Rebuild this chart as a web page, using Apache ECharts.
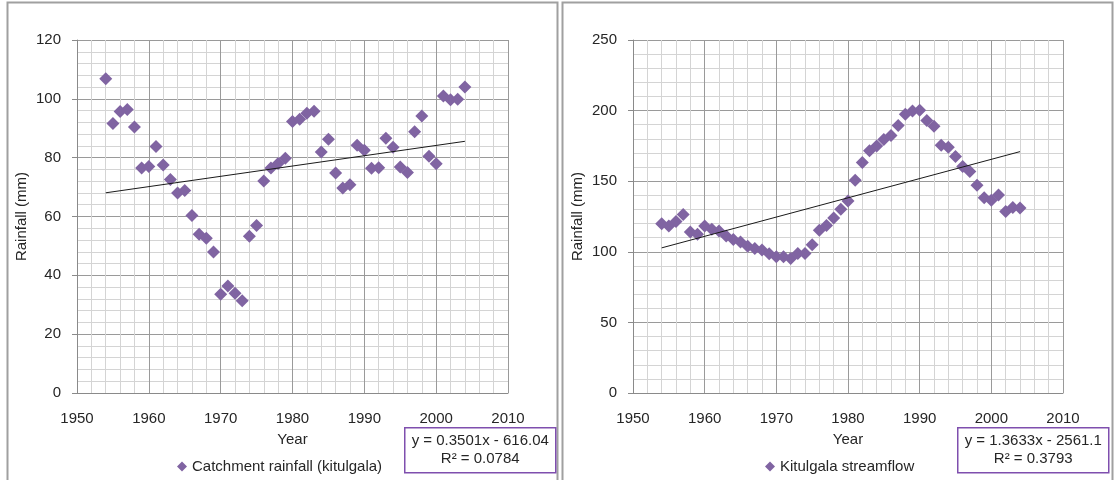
<!DOCTYPE html>
<html>
<head>
<meta charset="utf-8">
<script src="https://cdn.jsdelivr.net/npm/echarts@6/dist/echarts.min.js"></script>
<style>
html,body{margin:0;padding:0;background:#fff;}
#c{width:1115px;height:480px;}
</style>
</head>
<body>
<div id="c"></div>
<script>
// ---- data ----
var years = [1954,1955,1956,1957,1958,1959,1960,1961,1962,1963,1964,1965,1966,1967,1968,1969,
  1970,1971,1972,1973,1974,1975,1976,1977,1978,1979,1980,1981,1982,1983,1984,1985,1986,1987,1988,1989,
  1990,1991,1992,1993,1994,1995,1996,1997,1998,1999,2000,2001,2002,2003,2004];
var rainfall = [106.8,91.6,95.7,96.4,90.4,76.5,77.0,83.8,77.5,72.6,68.0,68.8,60.3,54.0,52.6,47.9,
  33.6,36.4,33.9,31.4,53.3,56.9,72.1,76.5,78.0,79.8,92.3,93.1,95.1,95.8,81.9,86.3,74.8,69.7,70.8,84.2,
  82.5,76.4,76.6,86.6,83.5,76.8,75.0,88.8,94.2,80.5,77.9,101.0,99.7,99.9,104.0];
var streamflow = [119.9,118.3,121.5,126.5,114.0,112.4,118.3,115.9,114.8,111.2,108.7,107.0,104.0,102.3,101.2,98.6,
  96.5,96.5,95.3,98.8,98.8,105.0,115.2,118.7,124.0,130.2,136.0,150.7,163.2,171.5,175.0,179.5,182.3,189.5,197.5,199.8,
  200.3,193.0,189.0,175.5,174.0,167.5,160.4,156.8,147.2,138.2,136.5,140.3,128.5,131.4,131.1];
// trend line coefficients as printed on the chart: [slope, intercept]
var trendRain = [0.3501, -616.04];
var trendFlow = [1.3633, -2561.1];
var trendRange = [1954, 2004];
var seriesNames = ['Catchment rainfall (kitulgala)', 'Kitulgala streamflow'];
var eqRain = ['y = 0.3501x - 616.04', 'R\u00B2 = 0.0784'];
var eqFlow = ['y = 1.3633x - 2561.1', 'R\u00B2 = 0.3793'];
var yTitle = 'Rainfall (mm)';
var xTitle = 'Year';

// ---- build ----
var FONT = 'Liberation Sans';
var TXT = '#262626';
var PURPLE = '#8064A2';
function pairs(vals){ return years.map(function(y,i){ return [y, vals[i]]; }); }
function trend(c){ return trendRange.map(function(x){ return [x, c[0]*x + c[1]]; }); }

function xAxis(gi){
  return {
    type:'value', gridIndex:gi, min:1950, max:2010, interval:10,
    name: xTitle, nameLocation:'middle', nameGap:39,
    nameTextStyle:{fontFamily:FONT,fontSize:15,color:TXT},
    axisLine:{show:true,onZero:false,lineStyle:{color:'#8a8a8a',width:1}},
    axisTick:{show:false},
    axisLabel:{fontFamily:FONT,fontSize:15,color:TXT,margin:18,formatter:function(v){return String(v);}},
    splitLine:{show:true,lineStyle:{color:'#9a9a9a',width:1}},
    minorTick:{show:false,splitNumber:5},
    minorSplitLine:{show:true,lineStyle:{color:'#d4d4d4',width:1}}
  };
}
function yAxis(gi,max,interval){
  return {
    type:'value', gridIndex:gi, min:0, max:max, interval:interval,
    name: yTitle, nameLocation:'middle', nameGap:48, nameRotate:90,
    nameTextStyle:{fontFamily:FONT,fontSize:15,color:TXT},
    axisLine:{show:true,lineStyle:{color:'#8a8a8a',width:1}},
    axisTick:{show:true,inside:false,length:5,lineStyle:{color:'#8a8a8a'}},
    axisLabel:{fontFamily:FONT,fontSize:15,color:TXT,margin:16},
    splitLine:{show:true,lineStyle:{color:'#9a9a9a',width:1}},
    minorTick:{show:false,splitNumber:5},
    minorSplitLine:{show:true,lineStyle:{color:'#d4d4d4',width:1}}
  };
}
function eqBox(x,y,lines){
  return {
    type:'group', left:x, top:y,
    children:[
      {type:'rect', shape:{x:0,y:0,width:151,height:45}, style:{fill:'#fff',stroke:'#7F4FAE',lineWidth:1.5}},
      {type:'text', style:{x:75.5,y:13,text:lines[0],textAlign:'center',textVerticalAlign:'middle',font:'15px "'+FONT+'"',fill:TXT}},
      {type:'text', style:{x:75.5,y:31,text:lines[1],textAlign:'center',textVerticalAlign:'middle',font:'15px "'+FONT+'"',fill:TXT}}
    ]
  };
}

var chart = echarts.init(document.getElementById('c'), null, {renderer:'canvas'});
chart.setOption({
  animation:false,
  backgroundColor:'#fff',
  grid:[
    {left:77, top:40, width:431, height:353},
    {left:633, top:40, width:430, height:353}
  ],
  xAxis:[xAxis(0), xAxis(1)],
  yAxis:[yAxis(0,120,20), yAxis(1,250,50)],
  legend:[
    {data:[{name:seriesNames[0],icon:'diamond'}], left:172, top:454, itemWidth:10, itemHeight:10, itemGap:4,
     textStyle:{fontFamily:FONT,fontSize:15,color:TXT}},
    {data:[{name:seriesNames[1],icon:'diamond'}], left:760, top:454, itemWidth:10, itemHeight:10, itemGap:4,
     textStyle:{fontFamily:FONT,fontSize:15,color:TXT}}
  ],
  series:[
    {name:seriesNames[0], type:'scatter', xAxisIndex:0, yAxisIndex:0, symbol:'diamond', symbolSize:13,
     itemStyle:{color:PURPLE,opacity:1}, data:pairs(rainfall), z:3},
    {name:'trend0', type:'line', xAxisIndex:0, yAxisIndex:0, symbol:'none', data:trend(trendRain),
     lineStyle:{color:'#1a1a1a',width:1}, z:4, silent:true},
    {name:seriesNames[1], type:'scatter', xAxisIndex:1, yAxisIndex:1, symbol:'diamond', symbolSize:13,
     itemStyle:{color:PURPLE,opacity:1}, data:pairs(streamflow), z:3},
    {name:'trend1', type:'line', xAxisIndex:1, yAxisIndex:1, symbol:'none', data:trend(trendFlow),
     lineStyle:{color:'#1a1a1a',width:1}, z:4, silent:true}
  ],
  graphic:[
    {type:'rect', shape:{x:7.5,y:2.5,width:550,height:500}, style:{fill:'none',stroke:'#a0a0a0',lineWidth:2}, z:0},
    {type:'rect', shape:{x:562.5,y:2.5,width:550,height:500}, style:{fill:'none',stroke:'#a0a0a0',lineWidth:2}, z:0},
    eqBox(404, 427, eqRain),
    eqBox(957, 427, eqFlow)
  ]
});
</script>
</body>
</html>
